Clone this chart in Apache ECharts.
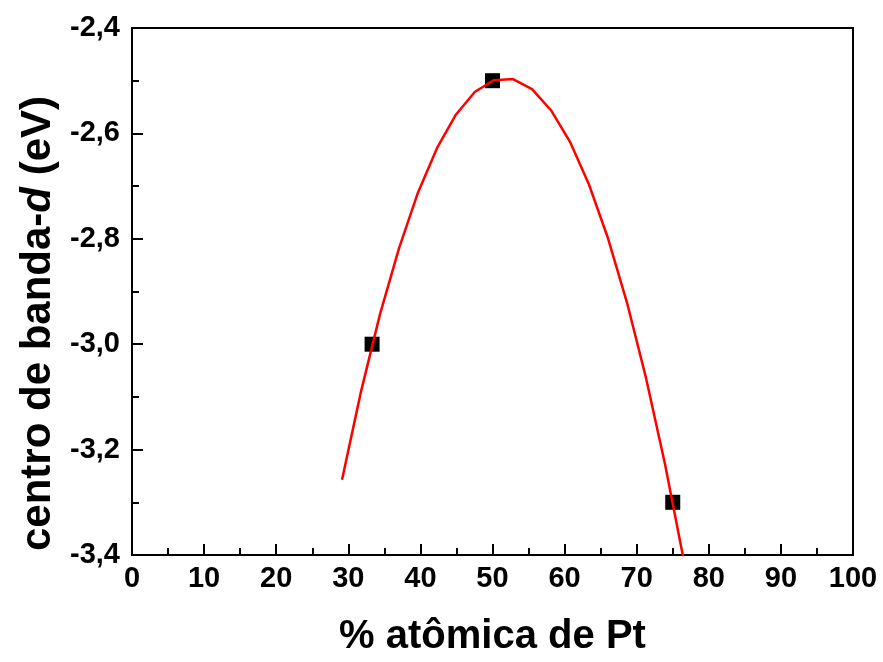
<!DOCTYPE html>
<html>
<head>
<meta charset="utf-8">
<script src="https://cdn.jsdelivr.net/npm/echarts@6/dist/echarts.min.js"></script>
<style>
html,body{margin:0;padding:0;background:#fff;}
#chart{width:883px;height:662px;}
</style>
</head>
<body>
<div id="chart"></div>
<script>
// Measured points (% atomic Pt, d-band centre eV)
const pointX = [33.3, 50, 75];
const pointY = [-3.0, -2.5, -3.3];

// Fitted curve vertices
const curveX = [29.13, 31.76, 34.40, 37.03, 39.67, 42.30, 44.94, 47.57, 50.21, 52.84, 55.48, 58.11, 60.75, 63.38, 66.02, 68.65, 71.29, 73.93, 76.56];
const curveY = [-3.257, -3.090, -2.943, -2.818, -2.712, -2.628, -2.564, -2.521, -2.499, -2.497, -2.516, -2.556, -2.616, -2.697, -2.799, -2.921, -3.064, -3.228, -3.412];

const xTicks = [0, 10, 20, 30, 40, 50, 60, 70, 80, 90, 100];
const yTicks = [-3.4, -3.2, -3.0, -2.8, -2.6, -2.4];

const FONT = '"Liberation Sans", Arial, Helvetica, sans-serif';

const chart = echarts.init(document.getElementById('chart'), null, {renderer: 'canvas'});
chart.setOption({
  backgroundColor: '#fff',
  animation: false,
  grid: {left: 132, right: 30, top: 28, bottom: 104, show: true, borderColor: '#000', borderWidth: 2, backgroundColor: 'transparent'},
  xAxis: {
    type: 'value', min: xTicks[0], max: xTicks[xTicks.length - 1], interval: 10,
    name: '% atômica de Pt', nameLocation: 'middle', nameGap: 62,
    nameTextStyle: {fontFamily: FONT, fontWeight: 'bold', fontSize: 40, color: '#000'},
    axisLine: {show: true, lineStyle: {color: '#000', width: 2}},
    axisTick: {show: true, inside: true, length: 11, lineStyle: {color: '#000', width: 2}},
    minorTick: {show: true, splitNumber: 2, length: 7, lineStyle: {color: '#000', width: 2}},
    splitLine: {show: false},
    axisLabel: {fontFamily: FONT, fontWeight: 'bold', fontSize: 29, color: '#000', margin: 9}
  },
  yAxis: {
    type: 'value', min: yTicks[0], max: yTicks[yTicks.length - 1], interval: 0.2,
    name: '{n|centro de banda-}{i|d}{n| (eV)}', nameLocation: 'middle', nameGap: 72, nameRotate: 90,
    nameTextStyle: {
      fontFamily: FONT, fontWeight: 'bold', fontSize: 42, color: '#000', padding: [0, 64, 0, 0],
      rich: {
        n: {fontFamily: FONT, fontWeight: 'bold', fontSize: 42, color: '#000'},
        i: {fontFamily: FONT, fontWeight: 'bold', fontStyle: 'italic', fontSize: 42, color: '#000'}
      }
    },
    axisLine: {show: true, lineStyle: {color: '#000', width: 2}},
    axisTick: {show: true, inside: true, length: 11, lineStyle: {color: '#000', width: 2}},
    minorTick: {show: true, splitNumber: 2, length: 7, lineStyle: {color: '#000', width: 2}},
    splitLine: {show: false},
    axisLabel: {
      fontFamily: FONT, fontWeight: 'bold', fontSize: 29, color: '#000', margin: 12,
      formatter: v => v.toFixed(1).replace('.', ',')
    }
  },
  series: [
    {
      type: 'line', data: curveX.map((x, i) => [x, curveY[i]]),
      showSymbol: false, symbol: 'none', smooth: false, clip: true,
      lineStyle: {color: '#ff0000', width: 2.5}, z: 2
    },
    {
      type: 'scatter', data: pointX.map((x, i) => [x, pointY[i]]),
      symbol: 'rect', symbolSize: 15, itemStyle: {color: '#000', opacity: 1}, z: 1
    }
  ]
});
</script>
</body>
</html>
